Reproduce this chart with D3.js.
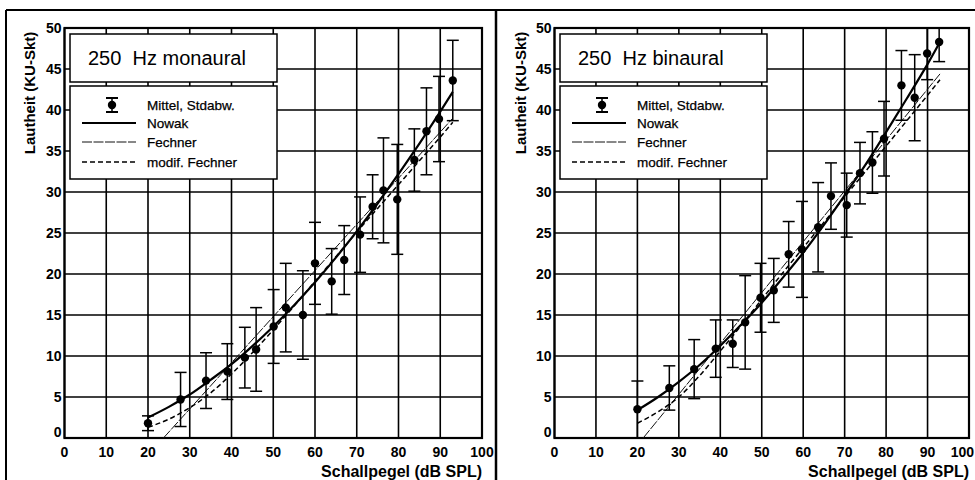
<!DOCTYPE html>
<html><head><meta charset="utf-8">
<script src="https://cdn.jsdelivr.net/npm/d3@7"></script>
<style>
body{margin:0;background:#fff;}
svg{display:block;font-family:"Liberation Sans",Arial,sans-serif;}
</style></head>
<body><svg id="chart" width="975" height="480"></svg>
<script>
// ---- data ----
const xTicks = [0,10,20,30,40,50,60,70,80,90,100];
const yTicks = [0,5,10,15,20,25,30,35,40,45,50];
const panelTitles = ["250  Hz monaural", "250  Hz binaural"];
const legendLabels = ["Mittel, Stdabw.", "Nowak", "Fechner", "modif. Fechner"];
const yLabel = "Lautheit (KU-Skt)";
const xLabel = "Schallpegel (dB SPL)";

// monaural measurements
const monoX    = [20,27.8,33.9,39,43.2,45.9,50.1,53,57.1,60,64,67,70.8,73.8,76.4,79.7,83.8,86.7,89.7,93];
const monoMean = [1.8,4.7,7.0,8.1,9.8,10.8,13.6,15.9,15.0,21.3,19.1,21.7,24.8,28.2,30.2,29.1,33.9,37.4,38.9,43.6];
const monoSD   = [0.9,3.3,3.4,3.4,3.7,5.1,4.5,5.4,5.4,5.0,4.0,4.2,4.6,3.9,6.4,6.7,3.8,5.3,5.2,4.9];
// binaural measurements
const binX    = [20,27.7,33.7,38.9,43,46,49.7,52.9,56.5,59.7,63.6,66.7,70.5,73.7,76.7,79.5,83.7,86.9,89.9,92.8];
const binMean = [3.5,6.1,8.4,10.9,11.5,14.1,17.1,18.0,22.4,23.0,25.7,29.5,28.4,32.3,33.6,36.5,43.0,41.5,46.9,48.3];
const binSD   = [3.45,2.7,3.6,3.5,2.9,5.7,4.2,3.9,4.0,5.85,5.45,4.05,3.9,3.75,3.75,4.55,4.25,5.25,3.2,2.4];

// model curves
const curveX        = [20,25,30,35,40,45,50,55,60,65,70,75,80,85,90,93];
const monoNowak     = [2.5,3.8,5.3,7.1,9.0,11.2,13.6,16.2,19.0,22.0,25.2,28.6,32.2,35.9,39.8,42.2];
const monoModFech   = [1.3,2.3,3.7,5.5,7.8,10.4,13.2,16.1,19.1,22.1,25.1,28.0,30.9,33.8,36.7,38.5];
const monoFechX     = [23.7,93];
const monoFech      = [0,39.0];
const binNowak      = [3.4,5.0,6.85,8.9,11.25,13.8,16.5,19.5,22.6,26.0,29.6,33.3,37.3,41.4,45.6,48.3];
const binModFech    = [1.8,3.2,5.0,7.6,10.6,13.7,16.9,20.1,23.2,26.3,29.4,32.5,35.6,38.7,41.8,43.7];
const binFechX      = [21.4,93];
const binFech       = [0,44.4];

// ---- drawing ----
const svg = d3.select("#chart");
const FONT = '"Liberation Sans",Arial,sans-serif';
const W = 975;

// outer frames
svg.append("line").attr("x1",6).attr("x2",975).attr("y1",10).attr("y2",10).attr("stroke","#000").attr("stroke-width",2);
svg.append("line").attr("x1",6).attr("x2",6).attr("y1",10).attr("y2",480).attr("stroke","#000").attr("stroke-width",2);
svg.append("line").attr("x1",496).attr("x2",496).attr("y1",10).attr("y2",480).attr("stroke","#000").attr("stroke-width",2.5);

const panels = [
  {x0:64.5, x1:482, yLabX:35, title:panelTitles[0], px:monoX, pm:monoMean, ps:monoSD,
   nowak:monoNowak, mod:monoModFech, fx:monoFechX, fy:monoFech},
  {x0:554.5, x1:969, yLabX:526, title:panelTitles[1], px:binX, pm:binMean, ps:binSD,
   nowak:binNowak, mod:binModFech, fx:binFechX, fy:binFech}
];

panels.forEach(p => {
  const x = d3.scaleLinear().domain([0,100]).range([p.x0,p.x1]);
  const y = d3.scaleLinear().domain([0,50]).range([438,28]);
  const g = svg.append("g");

  // grid
  g.append("g").selectAll("line").data(xTicks).join("line")
    .attr("x1",d=>x(d)).attr("x2",d=>x(d)).attr("y1",y(0)).attr("y2",y(50))
    .attr("stroke","#000").attr("stroke-width",1.6);
  g.append("g").selectAll("line").data(yTicks).join("line")
    .attr("x1",x(0)).attr("x2",x(100)).attr("y1",d=>y(d)).attr("y2",d=>y(d))
    .attr("stroke","#000").attr("stroke-width",1.6);
  g.append("rect").attr("x",x(0)).attr("y",y(50)).attr("width",x(100)-x(0)).attr("height",y(0)-y(50))
    .attr("fill","none").attr("stroke","#000").attr("stroke-width",2.2);

  // tick labels
  g.append("g").selectAll("text").data(yTicks).join("text")
    .attr("x",x(0)-3).attr("y",d=>d===0? y(d)-1 : y(d)+5)
    .attr("text-anchor","end").attr("font-size",14).attr("font-weight","bold")
    .attr("font-family",FONT).text(d=>d);
  g.append("g").selectAll("text").data(xTicks).join("text")
    .attr("x",d=> x(d)+12 > W ? W-1 : x(d)).attr("y",457)
    .attr("text-anchor",d=> x(d)+12 > W ? "end" : "middle")
    .attr("font-size",14).attr("font-weight","bold")
    .attr("font-family",FONT).text(d=>d);

  // axis labels
  g.append("text").attr("transform",`translate(${p.yLabX},93) rotate(-90)`)
    .attr("text-anchor","middle").attr("font-size",15).attr("font-weight","bold")
    .attr("font-family",FONT).text(yLabel);
  g.append("text").attr("x",x(100)).attr("y",477)
    .attr("text-anchor","end").attr("font-size",16).attr("font-weight","bold")
    .attr("font-family",FONT).text(xLabel);

  // curves
  const line = d3.line().x(d=>x(d[0])).y(d=>y(d[1]));
  g.append("path").attr("d",line(p.fx.map((v,i)=>[v,p.fy[i]])))
    .attr("fill","none").attr("stroke","#111").attr("stroke-width",1).attr("stroke-dasharray","10,1.5");
  g.append("path").attr("d",line.curve(d3.curveMonotoneX)(curveX.map((v,i)=>[v,p.mod[i]])))
    .attr("fill","none").attr("stroke","#000").attr("stroke-width",1.5).attr("stroke-dasharray","5,3");
  g.append("path").attr("d",line.curve(d3.curveMonotoneX)(curveX.map((v,i)=>[v,p.nowak[i]])))
    .attr("fill","none").attr("stroke","#000").attr("stroke-width",2.2);

  // error bars + points
  const pts = p.px.map((v,i)=>({x:v,m:p.pm[i],s:p.ps[i]}));
  const eb = g.append("g").selectAll("g").data(pts).join("g");
  eb.append("line").attr("x1",d=>x(d.x)).attr("x2",d=>x(d.x))
    .attr("y1",d=>y(Math.min(50,d.m+d.s))).attr("y2",d=>y(Math.max(0,d.m-d.s)))
    .attr("stroke","#000").attr("stroke-width",1.5);
  eb.filter(d=>d.m+d.s<50).append("line").attr("x1",d=>x(d.x)-6).attr("x2",d=>x(d.x)+6)
    .attr("y1",d=>y(d.m+d.s)).attr("y2",d=>y(d.m+d.s)).attr("stroke","#000").attr("stroke-width",1.5);
  eb.filter(d=>d.m-d.s>0.2).append("line").attr("x1",d=>x(d.x)-6).attr("x2",d=>x(d.x)+6)
    .attr("y1",d=>y(d.m-d.s)).attr("y2",d=>y(d.m-d.s)).attr("stroke","#000").attr("stroke-width",1.5);
  eb.append("circle").attr("cx",d=>x(d.x)).attr("cy",d=>y(d.m)).attr("r",4.2).attr("fill","#000");

  // title box
  const bx = p.x0 + 5.5, bw = 207;
  g.append("rect").attr("x",bx).attr("y",34).attr("width",bw).attr("height",48)
    .attr("fill","#fff").attr("stroke","#000").attr("stroke-width",1.5);
  g.append("text").attr("x",bx+18).attr("y",65).attr("font-size",20)
    .attr("font-family",FONT).style("white-space","pre").text(p.title);

  // legend box
  g.append("rect").attr("x",bx).attr("y",86).attr("width",bw).attr("height",93)
    .attr("fill","#fff").attr("stroke","#000").attr("stroke-width",1.5);
  const rows = [105,123,142,162];
  const lg = g.append("g");
  lg.selectAll("text").data(legendLabels).join("text")
    .attr("x",bx+77).attr("y",(d,i)=>rows[i]+5).attr("font-size",13.5)
    .attr("font-family",FONT).attr("stroke","#000").attr("stroke-width",0.25).text(d=>d);
  const sx = bx+42;
  lg.append("line").attr("x1",sx).attr("x2",sx).attr("y1",rows[0]-7).attr("y2",rows[0]+7).attr("stroke","#000").attr("stroke-width",1.5);
  [rows[0]-7, rows[0]+7].forEach(yy=>lg.append("line").attr("x1",sx-6).attr("x2",sx+6).attr("y1",yy).attr("y2",yy).attr("stroke","#000").attr("stroke-width",2));
  lg.append("circle").attr("cx",sx).attr("cy",rows[0]).attr("r",4.2).attr("fill","#000");
  lg.append("line").attr("x1",bx+12).attr("x2",bx+66).attr("y1",rows[1]).attr("y2",rows[1]).attr("stroke","#000").attr("stroke-width",2.2);
  lg.append("line").attr("x1",bx+12).attr("x2",bx+66).attr("y1",rows[2]).attr("y2",rows[2]).attr("stroke","#111").attr("stroke-width",1).attr("stroke-dasharray","10,1.5");
  lg.append("line").attr("x1",bx+12).attr("x2",bx+66).attr("y1",rows[3]).attr("y2",rows[3]).attr("stroke","#000").attr("stroke-width",1.5).attr("stroke-dasharray","5,3");
});
</script></body></html>
